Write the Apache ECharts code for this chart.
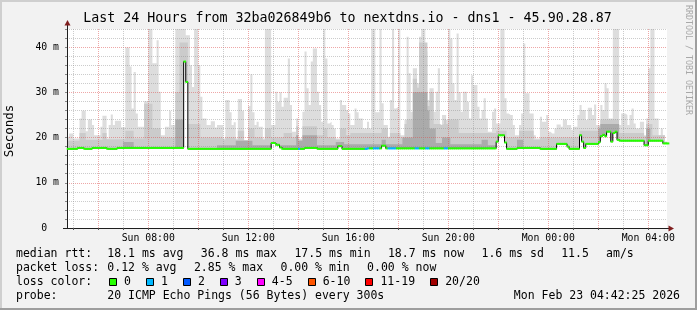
<!DOCTYPE html>
<html><head><meta charset="utf-8">
<script src="https://cdn.jsdelivr.net/npm/echarts/dist/echarts.min.js"></script>
<style>html,body{margin:0;padding:0;background:#f2f2f2;}#c{width:697px;height:310px;}</style>
</head><body><div id="c"></div>
<script>
// ---- data (ms), one value per 5-minute step from Sun 04:45 to Mon 04:45 ----
const medianRtt = [
17.5,17.5,17.5,17.5,17.5,17.7,17.7,17.7,17.5,17.5,
17.5,17.5,17.7,17.7,17.7,17.7,17.7,17.7,17.7,17.5,
17.5,17.5,17.5,17.5,17.7,17.7,17.7,17.7,17.7,17.7,
17.7,17.7,17.7,17.7,17.7,17.7,17.7,17.7,17.7,17.7,
17.7,17.7,17.7,17.7,17.7,17.7,17.7,17.7,17.7,17.7,
17.7,17.7,17.7,17.7,17.7,17.7,36.8,32.3,17.5,17.5,
17.5,17.5,17.5,17.5,17.5,17.5,17.5,17.5,17.5,17.5,
17.5,17.5,17.5,17.5,17.5,17.5,17.5,17.5,17.5,17.5,
17.5,17.5,17.5,17.5,17.5,17.5,17.5,17.5,17.5,17.5,
17.5,17.5,17.5,17.5,17.5,17.5,17.5,17.5,18.8,18.8,
18.4,18.4,17.8,17.5,17.5,17.5,17.5,17.5,17.5,17.5,
17.5,17.5,17.5,17.5,17.7,17.7,17.7,17.7,17.7,17.7,
17.5,17.5,17.5,17.5,17.5,17.5,17.5,17.5,17.5,17.5,
18.1,18.1,17.5,17.5,17.5,17.5,17.5,17.5,17.5,17.5,
17.5,17.5,17.5,17.5,17.6,17.6,17.6,17.6,17.6,17.6,
17.6,18.2,18.2,17.6,17.6,17.6,17.6,17.6,17.6,17.6,
17.6,17.6,17.6,17.6,17.6,17.6,17.6,17.6,17.6,17.6,
17.6,17.6,17.6,17.6,17.6,17.6,17.6,17.6,17.6,17.6,
17.6,17.6,17.6,17.6,17.6,17.6,17.6,17.6,17.6,17.6,
17.6,17.6,17.6,17.6,17.6,17.6,17.6,17.6,17.6,17.6,
17.6,17.6,17.6,17.6,17.6,17.6,19.1,20.5,20.5,20.5,
18.9,17.5,17.5,17.5,17.5,17.5,17.7,17.7,17.7,17.7,
17.7,17.7,17.7,17.7,17.7,17.7,17.7,17.5,17.5,17.5,
17.5,17.5,17.5,17.5,17.5,18.6,18.6,18.6,18.6,18.6,
18.0,17.5,17.5,17.5,17.5,17.5,20.5,19.1,17.7,18.6,
18.6,18.6,18.6,18.6,18.6,19.0,20.3,20.6,20.3,21.3,
21.3,19.1,21.0,21.3,19.5,19.3,19.3,19.3,19.3,19.3,
19.3,19.3,19.3,19.3,19.3,19.3,19.3,18.3,18.3,19.3,
19.3,19.3,19.3,19.3,19.3,19.3,18.7,18.7,18.7
];
const smokeMax = [
20.2,20.9,20.9,19.8,19.8,19.8,24.2,25.9,25.9,21.4,
24.0,24.0,22.8,20.5,20.5,20.5,22.4,24.8,24.8,19.8,
22.8,25.1,22.8,23.7,23.7,23.7,22.3,22.3,39.9,39.9,
35.7,26.4,34.5,25.3,22.4,22.4,22.4,28.0,28.0,45,
45,36.4,36.4,41.5,30.1,20.5,20.5,22.4,22.4,25.9,
22.8,22.8,45,45,45,45,45,42.6,42.6,36.0,
31.2,45,45,36.0,29.0,24.2,24.2,22.8,22.8,23.6,
23.6,22.2,22.8,22.8,22.8,19.8,28.3,28.3,25.6,22.8,
23.4,19.8,28.5,28.5,25.9,19.4,19.4,27.0,34.0,25.6,
22.8,23.5,22.4,22.4,19.8,45,45,45,22.8,22.8,
30.1,27.9,30.0,26.8,28.8,28.8,37.5,27.2,21.3,21.3,
24.2,19.8,19.8,25.7,39.0,30.9,27.2,36.8,39.7,39.7,
30.1,27.2,23.5,45,37.5,23.1,23.5,22.8,22.0,19.8,
19.8,28.3,27.2,27.2,26.1,25.3,22.8,22.8,26.4,25.6,
24.2,24.2,22.0,22.0,23.5,22.0,45,45,25.6,25.6,
45,27.6,22.8,22.8,20.2,28.3,45,26.4,26.8,45,
20.5,20.5,23.9,42.3,34.2,25.7,35.3,35.3,32.0,42.3,
45,45,39.0,28.3,30.9,30.9,25.7,30.1,35.3,22.8,
25.0,25.0,23.9,45,41.9,32.0,28.3,43.0,30.0,25.7,
30.1,30.1,27.9,24.2,33.8,31.6,31.6,26.8,24.2,26.1,
28.7,24.2,21.3,21.3,25.7,26.4,23.1,23.1,45,45,
28.7,25.3,25.0,25.0,22.8,20.5,20.5,22.8,25.3,40.8,
29.8,29.8,25.3,25.3,20.5,19.8,19.8,24.6,23.5,23.5,
25.0,21.3,20.9,20.9,22.0,22.9,22.9,22.4,24.0,24.0,
22.8,22.8,21.7,22.4,22.4,25.0,27.2,26.1,26.1,23.9,
26.6,26.6,25.0,27.3,22.8,22.8,27.2,26.1,32.0,30.9,
24.2,24.2,45,45,45,22.8,25.3,25.3,25.0,22.8,
25.0,26.4,23.1,22.0,22.0,23.5,23.5,20.5,24.2,35.3,
45,45,24.2,24.2,20.5,22.0,20.5,19.1,19.1
];
const smokeMid = [
19.3,19.3,19.3,19.3,19.3,19.3,21,21,21,19.5,
19.5,19.5,19.5,19.5,19.5,19.5,19.5,21,21,19.6,
19.6,19.6,19.6,19.6,19.6,19.6,19.6,19.6,21.5,21.5,
21.5,21.5,19.8,19.8,19.8,19.8,19.8,27.5,27.5,27.5,
27.5,22,22,22,22,20,20,20,20,20,
20,20,30,30,41,41,41,41,23,23,
23,23,23,23,20,20,20,20,20,20,
20,20,20,20,20,19.5,20,20,20,20,
20,19.5,21.5,21.5,21.5,19.4,19.4,22,22,22,
20,20,20,20,19.5,22,22,22,20,20,
20,20,20,20,21,21,21,21,20,20,
22.5,19.5,19.5,22.5,22.5,22.5,22.5,22.5,22.5,22.5,
20.5,20.5,20.5,22,22,20,20,20,20,19.5,
19.5,22,22,22,20.5,20.5,21,21,21,21,
21,21,21,21,21,21,21,21,21,21,
21,22,22,22,20,21,21,21,21,21,
20,20,23,24,24,24,33,33,31,41,
41,41,41,27,30,30,23,23,23,22.8,
23,24,23,24,24,24,24,24,21,21,
21,21,21,21,21,21,21,21,21,21,
21,21,21,21,21,21,21.5,21.5,21.5,21.5,
21.5,20,20,20,20,20,20,21.5,21.5,21.5,
21.5,21.5,21.5,21.5,19.5,19.5,19.5,20,20,20,
20,20,20,20,20,20,20,20,20,20,
20,20,20,20,20,20,21.5,21.5,21.5,21.5,
21.5,21.5,21.5,21.5,21.5,22.5,24,24,24,24,
24,24,24,24,24,21,21,21,21,21,
21,21,21,21,21,21,21,20.3,23,23,
23,20.5,20.5,20.5,20.5,20.5,20.5,19,19
];
const smokeDark = [
17.5,17.5,17.5,17.5,17.5,17.5,17.5,17.5,17.5,17.5,
17.5,17.5,17.5,17.5,17.5,17.5,17.5,17.5,17.5,17.5,
17.5,17.5,17.5,17.5,17.5,17.5,17.5,19,19,19,
19,19,17.5,17.5,17.5,17.5,17.5,17.5,17.5,17.5,
17.5,17.5,17.5,17.5,17.5,17.5,17.5,17.5,17.5,17.5,
17.5,17.5,24,24,24,24,17.5,17.5,17.5,17.5,
17.5,17.5,17.5,17.5,17.5,17.5,17.5,17.5,17.5,17.5,
17.5,17.5,18.3,18.3,18.3,18.3,18.3,18.3,18.3,18.3,
18.3,19.3,19.3,19.3,19.3,19.3,19.3,19.3,19.3,18.3,
18.3,18.3,18.3,18.3,18.3,18.3,18.3,18.3,18.3,18.3,
18.3,18.3,18.3,18.3,18.3,18.3,18.3,18.3,18.3,18.3,
20.5,19.3,19.3,20.5,20.5,20.5,20.5,20.5,20.5,20.5,
18.3,18.3,18.3,18.3,18.3,18.3,18.3,18.3,18.3,19,
19,19,19,18.5,18.5,18.5,18.5,18.5,18.5,18.5,
18.5,18.5,18.5,18.5,18.5,18.5,18.5,18.5,18.5,18.5,
18.5,19.5,19.5,18.5,18.5,18.5,18.5,18.5,18.5,18.5,
18.5,20,20,20,20,20,30,30,30,30,
30,30,30,26,22,22,22,18.8,18.8,18.8,
20,20,20,20,18.5,18.5,18.5,18.5,18.5,18.5,
18.5,18.5,18.5,18.5,18.5,18.5,18.5,18.5,18.5,19.5,
19.5,19.5,18.3,18.3,18.3,18.3,17.5,17.5,17.5,17.5,
17.5,17.5,17.5,17.5,17.5,17.5,19.5,19.5,19.5,17.5,
17.5,17.5,17.5,17.5,17.5,17.5,17.5,17.5,17.5,17.5,
17.5,17.5,17.5,17.5,17.5,17.5,17.5,17.5,17.5,17.5,
17.5,17.5,17.5,17.5,17.5,17.5,17.5,17.5,17.5,17.5,
17.5,17.5,17.5,17.5,17.5,22,23,23,23,23,
23,23,23,23,23,17.5,17.5,17.5,17.5,17.5,
17.5,17.5,17.5,17.5,17.5,17.5,17.5,17.5,22,22,
17.5,17.5,17.5,17.5,17.5,17.5,17.5,17.5,17.5
];
// steps where one ping of 20 was lost
const lossOneSteps = [111,143,144,147,148,149,154,155,156,157,167,168,172,173,181,182];

const xTickLabels = ['Sun 08:00','Sun 12:00','Sun 16:00','Sun 20:00','Mon 00:00','Mon 04:00'];
const yMajorValues = [0,10,20,30,40];

const titleText = 'Last 24 Hours from 32ba026849b6 to nextdns.io - dns1 - 45.90.28.87';
const rttStats = ['18.1 ms avg','36.8 ms max','17.5 ms min','18.7 ms now','1.6 ms sd','11.5','am/s'];
const lossStats = ['0.12 % avg','2.85 % max','0.00 % min','0.00 % now'];
const lossLegend = [['0','#26ff00'],['1','#00b8ff'],['2','#0059ff'],['3','#7e00ff'],['4-5','#ff00ff'],['6-10','#ff5500'],['11-19','#ff0000'],['20/20','#a10000']];
const probeText = '20 ICMP Echo Pings (56 Bytes) every 300s';
const stampText = 'Mon Feb 23 04:42:25 2026';

// ---- categories (5-minute slots) ----
const categories = [];
for (let i = 0; i < medianRtt.length; i++) {
  const t = 4 * 60 + 45 + i * 5;
  const day = t < 1440 ? 'Sun' : 'Mon';
  const m = t % 1440;
  categories.push(day + ' ' + String(Math.floor(m / 60)).padStart(2, '0') + ':' + String(m % 60).padStart(2, '0'));
}
const lossSet = new Set(lossOneSteps);

const MONO = '"DejaVu Sans Mono", monospace';
const RED = 'rgba(222,79,79,0.5)';
const GRAY = 'rgba(143,143,143,0.45)';
const CH = 6.95; // legend char width

function areaSeries(data, color) {
  return { type: 'line', data: data, step: 'end', showSymbol: false, symbol: 'none', silent: true,
    lineStyle: { width: 0, opacity: 0 }, areaStyle: { color: color, opacity: 1 }, z: 2 };
}

const graphics = [];
function txt(x, y, text, opt) {
  opt = opt || {};
  graphics.push({ type: 'text', x: x, y: y, rotation: opt.rot || 0, silent: true, z: 10,
    style: { text: text, fontFamily: MONO, fontSize: opt.size || 11.5, fill: opt.color || '#000',
      align: opt.align || 'left', textAlign: opt.align || 'left',
      verticalAlign: 'middle', textVerticalAlign: 'middle' } });
}
// frame
graphics.push({ type: 'rect', silent: true, shape: { x: 0, y: 0, width: 697, height: 2 }, style: { fill: '#cfcfcf' } });
graphics.push({ type: 'rect', silent: true, shape: { x: 0, y: 0, width: 2, height: 310 }, style: { fill: '#cfcfcf' } });
graphics.push({ type: 'rect', silent: true, shape: { x: 695, y: 0, width: 2, height: 310 }, style: { fill: '#9e9e9e' } });
graphics.push({ type: 'rect', silent: true, shape: { x: 0, y: 308, width: 697, height: 2 }, style: { fill: '#9e9e9e' } });
// axis extensions + arrows
graphics.push({ type: 'line', silent: true, z: 10, shape: { x1: 67.5, y1: 29, x2: 67.5, y2: 24 }, style: { stroke: '#1f1f1f', lineWidth: 1 } });
graphics.push({ type: 'polygon', silent: true, z: 10, shape: { points: [[64.5, 25.5], [70.5, 25.5], [67.5, 20]] }, style: { fill: '#801f1f' } });
graphics.push({ type: 'line', silent: true, z: 10, shape: { x1: 63, y1: 228.5, x2: 67, y2: 228.5 }, style: { stroke: '#1f1f1f', lineWidth: 1 } });
graphics.push({ type: 'line', silent: true, z: 10, shape: { x1: 667, y1: 228.5, x2: 669, y2: 228.5 }, style: { stroke: '#1f1f1f', lineWidth: 1 } });
graphics.push({ type: 'polygon', silent: true, z: 10, shape: { points: [[668.5, 225.5], [668.5, 231.5], [674, 228.5]] }, style: { fill: '#801f1f' } });
// titles
txt(347.5, 19, titleText, { size: 13.3, align: 'center' });
txt(10, 131, 'Seconds', { size: 12.5, align: 'center', rot: Math.PI / 2 });
txt(688, 60, 'RRDTOOL / TOBI OETIKER', { size: 8.3, align: 'center', rot: -Math.PI / 2, color: '#a8a8a8' });
// legend
const rowY = [254.5, 268.3, 282.1, 295.9];
txt(16, rowY[0], 'median rtt:');
let lx = 107.3;
rttStats.forEach(s => { txt(lx, rowY[0], s); lx += s.length * CH + 17.1; });
txt(16, rowY[1], 'packet loss:');
lx = 107.3;
lossStats.forEach(s => { txt(lx, rowY[1], s); lx += s.length * CH + 17.1; });
txt(16, rowY[2], 'loss color:');
let bx = 109;
lossLegend.forEach(([label, color]) => {
  graphics.push({ type: 'rect', silent: true, z: 10, shape: { x: Math.round(bx) + 0.5, y: 278.5, width: 7, height: 7 },
    style: { fill: color, stroke: '#000', lineWidth: 1 } });
  txt(bx + 15, rowY[2], label);
  bx = bx + 15 + label.length * CH + 15;
});
txt(16, rowY[3], 'probe:');
txt(107.3, rowY[3], probeText);
txt(680, rowY[3], stampText, { align: 'right' });

const chart = echarts.init(document.getElementById('c'), null, { renderer: 'canvas' });
chart.setOption({
  animation: false,
  backgroundColor: '#f2f2f2',
  grid: { left: 67, right: 30, top: 29, bottom: 82, show: true, backgroundColor: '#ffffff', borderWidth: 0, containLabel: false },
  xAxis: {
    type: 'category', data: categories, boundaryGap: false, z: 3,
    axisLine: { show: true, lineStyle: { color: '#1f1f1f', width: 1 } },
    axisTick: { show: true, interval: (i, v) => v.endsWith(':00'), length: 2, lineStyle: { color: '#555' } },
    axisLabel: { show: true, interval: (i, v) => xTickLabels.indexOf(v) >= 0, margin: 5,
      fontFamily: MONO, fontSize: 9.8, color: '#000' },
    splitLine: { show: true, interval: (i, v) => v.endsWith(':00'),
      lineStyle: { type: 'dotted', width: 1, color: [GRAY, RED] } }
  },
  yAxis: {
    type: 'value', min: 0, max: 44, interval: 2, z: 3,
    axisLine: { show: true, lineStyle: { color: '#1f1f1f', width: 1 } },
    axisTick: { show: true, length: 2, lineStyle: { color: '#888' } },
    axisLabel: { show: true, margin: 8, fontFamily: MONO, fontSize: 9.8, color: '#000',
      formatter: v => yMajorValues.indexOf(v) < 0 ? '' : (v === 0 ? '0  ' : v + ' m') },
    splitLine: { show: true, lineStyle: { type: 'dotted', width: 1, color: [RED, GRAY, GRAY, GRAY, GRAY] } }
  },
  series: [
    areaSeries(smokeMax, '#dddddd'),
    areaSeries(smokeMid, '#cbcbcb'),
    areaSeries(smokeDark, '#ababab'),
    areaSeries(medianRtt, '#ffffff'),
    { type: 'line', data: medianRtt, step: 'end', showSymbol: false, symbol: 'none', silent: true,
      lineStyle: { color: '#000', width: 1 }, z: 4 },
    { type: 'scatter', data: medianRtt, symbol: 'rect', symbolSize: [2.6, 2], symbolOffset: [1.04, 0],
      silent: true, z: 5,
      itemStyle: { opacity: 1, color: p => lossSet.has(p.dataIndex) ? lossLegend[1][1] : lossLegend[0][1] } }
  ],
  graphic: graphics
});
</script>
</body></html>
